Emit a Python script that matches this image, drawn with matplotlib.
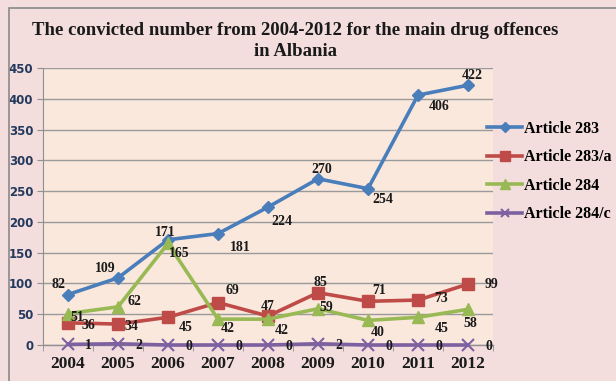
import matplotlib
matplotlib.use("Agg")
import matplotlib.pyplot as plt
from matplotlib.patches import Rectangle

years = ["2004", "2005", "2006", "2007", "2008", "2009", "2010", "2011", "2012"]
art283 = [82, 109, 171, 181, 224, 270, 254, 406, 422]
art283a = [36, 34, 45, 69, 47, 85, 71, 73, 99]
art284 = [51, 62, 165, 42, 42, 59, 40, 45, 58]
art284c = [1, 2, 0, 0, 0, 2, 0, 0, 0]
series_names = ["Article 283", "Article 283/a", "Article 284", "Article 284/c"]
yticks = [0, 50, 100, 150, 200, 250, 300, 350, 400, 450]

# label offsets in points (dx, dy) per point
off283 = [(-7, 7), (-9, 7), (-2, 5), (16, -10), (10, -10), (3, 7), (11, -8), (15, -8), (3, 7)]
off283a = [(15, -2), (10, -2), (13, -7), (10, 9), (0, 7), (2, 7), (8, 8), (17, 1), (17, 0)]
off284 = [(7, -3), (12, 4), (8, -7), (7, -7), (10, -8), (6, 1), (7, -9), (17, -8), (2, -10)]
off284c = [(15, -1)] * 9

styles = [
    dict(color="#4a7ebb", marker="D", ms=6.5),
    dict(color="#be4b48", marker="s", ms=9),
    dict(color="#98b954", marker="^", ms=9),
    dict(color="#7d60a0", marker="x", ms=8, mew=1.5),
]

W, H = 616, 381
fig = plt.figure(figsize=(W / 100, H / 100), dpi=100)
fig.patch.set_facecolor("#f3dddd")
fig.add_artist(Rectangle((9 / W, -0.01), 1.0, 1 - 8 / H + 0.01, transform=fig.transFigure,
                         fill=False, edgecolor="#8a8a8a", lw=1.2))

ax = fig.add_axes([43 / W, 36 / H, (493 - 43) / W, (345 - 68) / H])
ax.set_facecolor("#fbe8dc")
x = list(range(len(years)))

data = [art283, art283a, art284, art284c]
offs = [off283, off283a, off284, off284c]
for name, vals, st, of in zip(series_names, data, styles, offs):
    ax.plot(x, vals, lw=2.6, label=name, zorder=3, clip_on=False, **st)
    for xi, v, (dx, dy) in zip(x, vals, of):
        ax.annotate(str(v), (xi, v), xytext=(dx, dy), textcoords="offset points",
                    ha="center", va="center", fontsize=10, fontweight="bold",
                    family="Liberation Serif", color="#1a1a1a", zorder=5)

ax.set_xlim(-0.5, 8.5)
ax.set_ylim(0, 450)
ax.set_yticks(yticks)
ax.set_yticklabels([str(t) for t in yticks], fontsize=8.5, fontweight="bold",
                   color="#23395d", family="DejaVu Sans")
ax.set_xticks(x)
ax.set_xticklabels(years, fontsize=12.5, fontweight="bold", family="Liberation Serif",
                   color="#1a1a1a")
ax.set_xticks([i + 0.5 for i in range(-1, 9)], minor=True)
ax.tick_params(axis="x", which="major", length=0, pad=8)
ax.tick_params(axis="x", which="minor", length=4, color="#909090")
ax.tick_params(axis="y", length=4, color="#909090", pad=3)
ax.grid(axis="y", color="#9a9a9a", lw=1.0)
ax.set_axisbelow(True)
for s in ["top", "right"]:
    ax.spines[s].set_visible(False)
ax.spines["left"].set_color("#909090")
ax.spines["bottom"].set_color("#909090")
ax.spines["bottom"].set_linewidth(1.0)

fig.text(0.479, 1 - 41 / H, "The convicted number from 2004-2012 for the main drug offences\nin Albania",
         ha="center", va="center", fontsize=13.5, fontweight="bold",
         family="Liberation Serif", color="#1a1a1a", linespacing=1.25)

leg = fig.legend(loc="upper left", bbox_to_anchor=(487 / W, 1 - 121 / H), frameon=False,
                 prop=dict(family="Liberation Serif", weight="bold", size=11.5),
                 handlelength=2.2, handletextpad=0.1, labelspacing=0.78, borderaxespad=0,
                 borderpad=0)
for h in leg.legend_handles:
    h.set_markersize(h.get_markersize() * 0.75)

fig.savefig("out.png", dpi=100, facecolor=fig.get_facecolor())
